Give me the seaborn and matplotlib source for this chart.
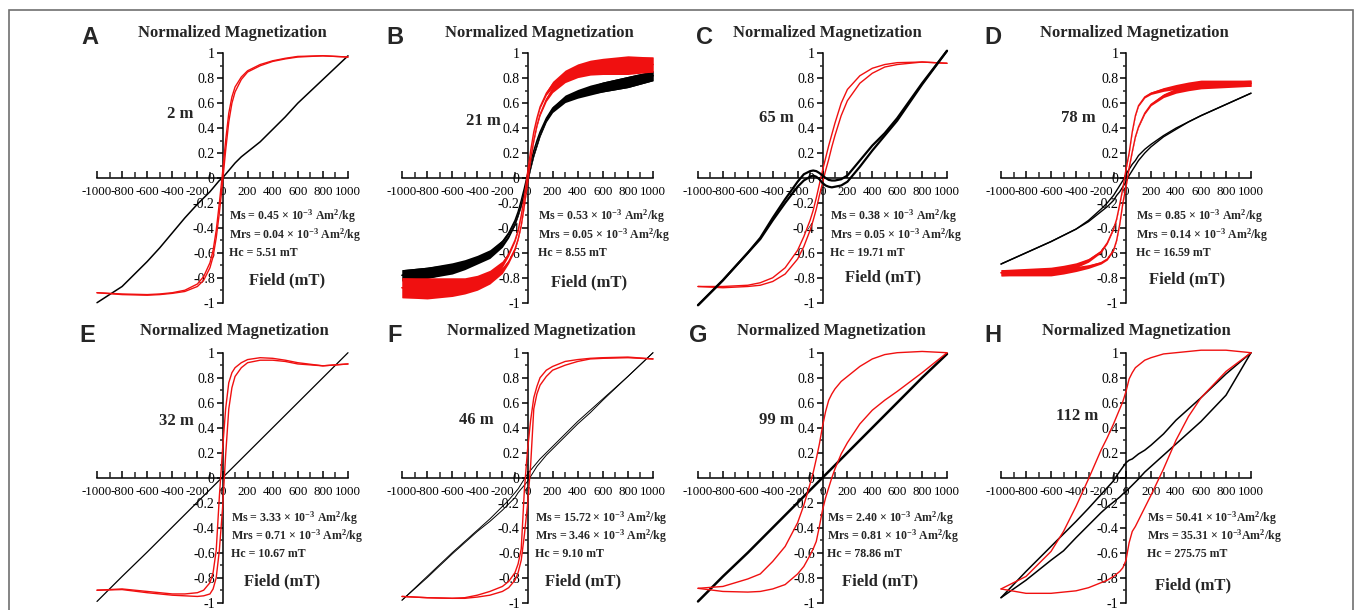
import matplotlib
matplotlib.use("Agg")
import matplotlib.pyplot as plt
from matplotlib.patches import Rectangle
from matplotlib.ticker import FixedLocator, MultipleLocator
import numpy as np
import pandas as pd
import seaborn as sns

# field steps (mT) shared by every branch
FIELD_MT = [-1000, -800, -600, -500, -400, -300, -200, -150, -100, -75, -50, -25,
            0, 25, 50, 75, 100, 150, 200, 300, 400, 500, 600, 800, 1000]

PANELS = ["A", "B", "C", "D", "E", "F", "G", "H"]
DEPTHS = ["2 m", "21 m", "65 m", "78 m", "32 m", "46 m", "99 m", "112 m"]
MS = ["0.45", "0.53", "0.38", "0.85", "3.33", "15.72", "2.40", "50.41"]
MRS = ["0.04", "0.05", "0.05", "0.14", "0.71", "3.46", "0.81", "35.31"]
HC = ["5.51", "8.55", "19.71", "16.59", "10.67", "9.10", "78.86", "275.75"]

# A, 2 m
A_RED_UP = [-0.92, -0.93, -0.935, -0.93, -0.92, -0.90, -0.85, -0.79, -0.68, -0.58, -0.42, -0.20,
            0.04, 0.30, 0.52, 0.65, 0.73, 0.81, 0.86, 0.91, 0.94, 0.96, 0.975, 0.98, 0.97]
A_RED_LO = [-0.92, -0.935, -0.94, -0.935, -0.925, -0.91, -0.87, -0.82, -0.72, -0.63, -0.48, -0.28,
            -0.04, 0.22, 0.45, 0.60, 0.69, 0.79, 0.85, 0.90, 0.935, 0.955, 0.97, 0.98, 0.97]
A_BLACK = [-1.0, -0.87, -0.67, -0.56, -0.44, -0.32, -0.21, -0.16, -0.11, -0.08, -0.05, -0.02,
           0.0, 0.03, 0.06, 0.09, 0.12, 0.17, 0.21, 0.29, 0.39, 0.49, 0.60, 0.79, 0.98]

# B, 21 m (noisy)
B_RED_UP = [-0.88, -0.88, -0.87, -0.86, -0.83, -0.78, -0.69, -0.61, -0.50, -0.42, -0.30, -0.15,
            0.04, 0.22, 0.37, 0.48, 0.57, 0.68, 0.75, 0.83, 0.87, 0.89, 0.90, 0.91, 0.91]
B_RED_LO = [-0.88, -0.89, -0.88, -0.87, -0.85, -0.81, -0.74, -0.67, -0.57, -0.49, -0.38, -0.22,
            -0.04, 0.15, 0.30, 0.42, 0.51, 0.63, 0.71, 0.80, 0.85, 0.88, 0.89, 0.90, 0.91]
B_RED_NOISE = [0.08, 0.08, 0.07, 0.06, 0.05, 0.04, 0.025, 0.015, 0.01, 0.008, 0.008, 0.008,
               0.008, 0.008, 0.008, 0.008, 0.01, 0.015, 0.025, 0.035, 0.045, 0.055, 0.06, 0.07, 0.06]
B_BLACK_UP = [-0.78, -0.76, -0.72, -0.69, -0.65, -0.60, -0.51, -0.44, -0.34, -0.27, -0.18, -0.08,
              0.03, 0.13, 0.22, 0.30, 0.37, 0.48, 0.56, 0.64, 0.68, 0.71, 0.73, 0.77, 0.82]
B_BLACK_LO = [-0.78, -0.76, -0.73, -0.70, -0.66, -0.62, -0.54, -0.47, -0.37, -0.30, -0.22, -0.12,
              -0.03, 0.08, 0.18, 0.26, 0.34, 0.46, 0.54, 0.63, 0.67, 0.70, 0.73, 0.77, 0.82]
B_BLACK_NOISE = [0.045, 0.045, 0.04, 0.035, 0.03, 0.025, 0.015, 0.01, 0.008, 0.008, 0.008, 0.008,
                 0.008, 0.008, 0.008, 0.008, 0.008, 0.01, 0.015, 0.025, 0.03, 0.035, 0.04, 0.045, 0.04]

# C, 65 m
C_RED_UP = [-0.87, -0.87, -0.86, -0.84, -0.80, -0.72, -0.58, -0.47, -0.34, -0.26, -0.16, -0.05,
            0.06, 0.16, 0.26, 0.35, 0.44, 0.60, 0.71, 0.82, 0.88, 0.91, 0.925, 0.93, 0.92]
C_RED_LO = [-0.87, -0.88, -0.87, -0.86, -0.83, -0.77, -0.65, -0.55, -0.42, -0.34, -0.25, -0.14,
            -0.04, 0.06, 0.15, 0.25, 0.34, 0.50, 0.62, 0.76, 0.84, 0.89, 0.91, 0.93, 0.92]
C_BLACK_UP = [-1.02, -0.82, -0.60, -0.48, -0.32, -0.17, -0.03, 0.03, 0.055, 0.06, 0.055, 0.04,
              0.02, 0.0, -0.015, -0.02, -0.02, -0.01, 0.02, 0.14, 0.26, 0.36, 0.48, 0.76, 1.02]
C_BLACK_LO = [-1.02, -0.82, -0.60, -0.49, -0.34, -0.20, -0.07, -0.02, 0.01, 0.02, 0.01, -0.01,
              -0.04, -0.06, -0.07, -0.075, -0.07, -0.06, -0.03, 0.09, 0.22, 0.34, 0.46, 0.75, 1.02]

# D, 78 m (noisy red)
D_RED_UP = [-0.76, -0.75, -0.74, -0.72, -0.70, -0.66, -0.59, -0.52, -0.41, -0.33, -0.21, -0.08,
            0.07, 0.20, 0.37, 0.50, 0.58, 0.65, 0.68, 0.71, 0.73, 0.75, 0.76, 0.76, 0.76]
D_RED_LO = [-0.76, -0.76, -0.76, -0.75, -0.73, -0.71, -0.68, -0.65, -0.58, -0.50, -0.37, -0.20,
            -0.07, 0.08, 0.21, 0.33, 0.41, 0.52, 0.59, 0.66, 0.70, 0.72, 0.74, 0.75, 0.76]
D_RED_NOISE = [0.025, 0.025, 0.025, 0.02, 0.02, 0.015, 0.01, 0.008, 0.005, 0.005, 0.005, 0.005,
               0.005, 0.005, 0.005, 0.005, 0.005, 0.008, 0.01, 0.015, 0.02, 0.02, 0.025, 0.025, 0.025]
D_BLACK_UP = [-0.69, -0.60, -0.51, -0.46, -0.41, -0.34, -0.25, -0.20, -0.14, -0.10, -0.06, -0.02,
              0.03, 0.07, 0.11, 0.14, 0.18, 0.23, 0.27, 0.34, 0.40, 0.45, 0.50, 0.59, 0.68]
D_BLACK_LO = [-0.69, -0.60, -0.51, -0.46, -0.41, -0.35, -0.27, -0.23, -0.18, -0.14, -0.11, -0.07,
              -0.03, 0.02, 0.06, 0.10, 0.14, 0.20, 0.25, 0.33, 0.39, 0.45, 0.50, 0.59, 0.68]

# E, 32 m
E_RED_UP = [-0.90, -0.89, -0.91, -0.92, -0.93, -0.93, -0.92, -0.90, -0.84, -0.76, -0.58, -0.15,
            0.22, 0.55, 0.76, 0.84, 0.88, 0.92, 0.945, 0.96, 0.955, 0.94, 0.92, 0.895, 0.91]
E_RED_LO = [-0.90, -0.895, -0.92, -0.93, -0.94, -0.945, -0.95, -0.945, -0.93, -0.89, -0.80, -0.58,
            -0.25, 0.18, 0.55, 0.72, 0.81, 0.88, 0.92, 0.94, 0.94, 0.93, 0.91, 0.895, 0.91]
E_BLACK = [-0.99, -0.79, -0.595, -0.495, -0.395, -0.295, -0.195, -0.145, -0.095, -0.07, -0.045, -0.02,
           0.0, 0.025, 0.05, 0.075, 0.1, 0.15, 0.2, 0.3, 0.4, 0.5, 0.6, 0.8, 1.0]

# F, 46 m
F_RED_UP = [-0.95, -0.96, -0.965, -0.96, -0.94, -0.91, -0.87, -0.83, -0.76, -0.69, -0.57, -0.10,
            0.22, 0.46, 0.64, 0.73, 0.80, 0.86, 0.89, 0.93, 0.945, 0.955, 0.96, 0.965, 0.95]
F_RED_LO = [-0.95, -0.96, -0.965, -0.965, -0.955, -0.94, -0.91, -0.88, -0.82, -0.76, -0.66, -0.46,
            -0.22, 0.10, 0.55, 0.67, 0.74, 0.81, 0.86, 0.90, 0.93, 0.95, 0.955, 0.96, 0.95]
F_BLACK_UP = [-0.98, -0.79, -0.60, -0.51, -0.42, -0.33, -0.23, -0.18, -0.12, -0.09, -0.05, -0.01,
              0.03, 0.06, 0.09, 0.12, 0.15, 0.20, 0.25, 0.35, 0.45, 0.54, 0.63, 0.81, 1.0]
F_BLACK_LO = [-0.98, -0.80, -0.61, -0.52, -0.43, -0.35, -0.26, -0.21, -0.16, -0.12, -0.09, -0.06,
              -0.03, 0.01, 0.05, 0.09, 0.12, 0.18, 0.23, 0.33, 0.43, 0.52, 0.62, 0.81, 1.0]

# G, 99 m
G_RED_UP = [-0.885, -0.87, -0.81, -0.77, -0.67, -0.55, -0.36, -0.22, -0.05, 0.04, 0.15, 0.27,
            0.41, 0.53, 0.62, 0.67, 0.71, 0.77, 0.81, 0.89, 0.95, 0.985, 1.0, 1.01, 1.0]
G_RED_LO = [-0.885, -0.91, -0.915, -0.91, -0.89, -0.855, -0.77, -0.71, -0.62, -0.57, -0.51, -0.39,
            -0.26, -0.16, -0.08, 0.0, 0.07, 0.19, 0.28, 0.43, 0.54, 0.62, 0.69, 0.84, 1.0]
G_BLACK = [-0.99, -0.79, -0.60, -0.50, -0.40, -0.30, -0.20, -0.15, -0.10, -0.075, -0.05, -0.025,
           0.0, 0.025, 0.05, 0.075, 0.10, 0.15, 0.20, 0.30, 0.40, 0.50, 0.60, 0.80, 0.99]

# H, 112 m
H_RED_UP = [-0.89, -0.79, -0.59, -0.43, -0.23, -0.01, 0.22, 0.32, 0.43, 0.49, 0.55, 0.61,
            0.69, 0.79, 0.84, 0.88, 0.90, 0.94, 0.96, 0.99, 1.0, 1.01, 1.02, 1.02, 1.0]
H_RED_LO = [-0.89, -0.925, -0.925, -0.915, -0.905, -0.88, -0.84, -0.82, -0.79, -0.77, -0.75, -0.72,
            -0.66, -0.52, -0.43, -0.39, -0.34, -0.24, -0.14, 0.07, 0.30, 0.49, 0.64, 0.85, 1.0]
H_BLACK_UP = [-0.96, -0.75, -0.55, -0.45, -0.35, -0.245, -0.135, -0.08, -0.025, 0.015, 0.05, 0.085,
              0.12, 0.14, 0.15, 0.17, 0.19, 0.22, 0.26, 0.35, 0.46, 0.55, 0.64, 0.83, 1.0]
H_BLACK_LO = [-0.96, -0.82, -0.66, -0.585, -0.48, -0.38, -0.28, -0.235, -0.195, -0.175, -0.155, -0.13,
              -0.11, -0.085, -0.06, -0.035, -0.01, 0.045, 0.09, 0.18, 0.27, 0.36, 0.45, 0.66, 1.0]

RED_UP = [A_RED_UP, B_RED_UP, C_RED_UP, D_RED_UP, E_RED_UP, F_RED_UP, G_RED_UP, H_RED_UP]
RED_LO = [A_RED_LO, B_RED_LO, C_RED_LO, D_RED_LO, E_RED_LO, F_RED_LO, G_RED_LO, H_RED_LO]
BLACK_UP = [A_BLACK, B_BLACK_UP, C_BLACK_UP, D_BLACK_UP, E_BLACK, F_BLACK_UP, G_BLACK, H_BLACK_UP]
BLACK_LO = [A_BLACK, B_BLACK_LO, C_BLACK_LO, D_BLACK_LO, E_BLACK, F_BLACK_LO, G_BLACK, H_BLACK_LO]
RED_NOISE = {"B": B_RED_NOISE, "D": D_RED_NOISE}
BLACK_NOISE = {"B": B_BLACK_NOISE}

# layout, in pixels of the 1356x610 canvas and in data units of each panel
W, H = 1356, 610
COLS = [(97, 348), (402, 653), (698, 947), (1001, 1251)]
ROWS = [(53.3, 302.7), (352.7, 602.7)]
TITLE_X = [78, 93, 38, 70, 93, 107, 69, 87]
LETTER_X = [-1060, -1056, -944, -1068, -1076, -1056, -998, -1068]
DEPTH_X = [-232, -216, -232, -240, -232, -267, -232, -225]
DEPTH_Y = [0.51, 0.46, 0.48, 0.48, 0.45, 0.46, 0.46, 0.49]
STAT_X = [54, 80, 59, 77, 67, 61, 40, 167]
FIELD_X = [515, 492, 488, 492, 475, 445, 462, 537]
FIELD_Y = [-0.82, -0.84, -0.80, -0.81, -0.83, -0.83, -0.83, -0.86]
BLACK_LW = [1.1, 1.0, 1.6, 1.0, 0.9, 0.7, 1.8, 1.1]

sns.set_style("white")
plt.rcParams["font.family"] = ["Liberation Serif", "DejaVu Serif"]
plt.rcParams["mathtext.fontset"] = "custom"
plt.rcParams["mathtext.rm"] = "Liberation Serif"
plt.rcParams["mathtext.bf"] = "Liberation Serif:bold"
plt.rcParams["mathtext.default"] = "bf"
plt.rcParams["axes.unicode_minus"] = False

RED = "#f01010"


def branch(ax, m, color, lw, noise=None):
    if noise is not None:
        m_arr = np.array(m)
        ax.fill_between(FIELD_MT, m_arr - np.array(noise), m_arr + np.array(noise),
                        color=color, lw=0, clip_on=False)
    df = pd.DataFrame({"field": FIELD_MT, "m": m})
    sns.lineplot(data=df, x="field", y="m", sort=False, estimator=None,
                 color=color, lw=lw, ax=ax, clip_on=False)


fig = plt.figure(figsize=(W / 100, H / 100), dpi=100)

for i, name in enumerate(PANELS):
    r, c = divmod(i, 4)
    x0, x1 = COLS[c]
    y0, y1 = ROWS[r]
    ax = fig.add_axes([x0 / W, 1 - y1 / H, (x1 - x0) / W, (y1 - y0) / H])
    ax.patch.set_alpha(0)

    zb, zr = (1, 2) if name != "C" else (2, 1)
    for m in ([BLACK_UP[i]] if BLACK_UP[i] is BLACK_LO[i] else [BLACK_UP[i], BLACK_LO[i]]):
        branch(ax, m, "black", BLACK_LW[i], BLACK_NOISE.get(name))
    for m in (RED_UP[i], RED_LO[i]):
        branch(ax, m, RED, 1.0, RED_NOISE.get(name))
    for ln in ax.lines:
        ln.set_zorder(zr if ln.get_color() == RED else zb)

    ax.set_xlim(-1000, 1000)
    ax.set_ylim(-1, 1)
    ax.set_xlabel("")
    ax.set_ylabel("")
    for s in ("top", "right"):
        ax.spines[s].set_visible(False)
    for s in ("left", "bottom"):
        ax.spines[s].set_position(("data", 0))
        ax.spines[s].set_linewidth(1.1)
        ax.spines[s].set_color("black")
        ax.spines[s].set_zorder(0.5)

    xt = list(range(-1000, 1001, 200))
    ax.xaxis.set_major_locator(FixedLocator(xt))
    ax.xaxis.set_minor_locator(MultipleLocator(100))
    ax.set_xticklabels([str(v) for v in xt])
    yt = [round(v, 1) + 0.0 for v in np.arange(-1, 1.01, 0.2)]
    ax.yaxis.set_major_locator(FixedLocator(yt))
    ax.yaxis.set_minor_locator(MultipleLocator(0.1))
    ax.set_yticklabels(["0" if abs(v) < 1e-9 else f"{v:g}" for v in yt])
    ax.tick_params(axis="both", which="both", bottom=True, left=True, top=False, right=False)
    ax.tick_params(axis="x", which="major", direction="in", length=5, width=1.1,
                   pad=6, labelsize=9.3, colors="black")
    ax.tick_params(axis="x", which="minor", direction="in", length=4, width=1.1)
    ax.tick_params(axis="y", which="major", direction="out", length=4, width=1.1,
                   pad=1.5, labelsize=10, colors="black")
    ax.tick_params(axis="y", which="minor", direction="out", length=2.5, width=1.1)

    title_y = 1.16 if r == 0 else 1.17
    ax.text(TITLE_X[i], title_y, "Normalized Magnetization", ha="center", va="center",
            fontsize=12, fontweight="bold", clip_on=False)
    ax.text(LETTER_X[i], 1.13 if r == 0 else 1.14, name, ha="center", va="center",
            fontsize=17, fontweight="bold", family="Liberation Sans", clip_on=False)
    ax.text(DEPTH_X[i], DEPTH_Y[i], DEPTHS[i], ha="right", va="center",
            fontsize=12, fontweight="bold")
    sep = "" if name == "H" else " "
    stat_y = [-0.31, -0.455, -0.60] if r == 0 else [-0.325, -0.47, -0.61]
    lines = [f"Ms = {MS[i]} × 10$^{{-3}}${sep}Am$^{{2}}$/kg",
             f"Mrs = {MRS[i]} × 10$^{{-3}}${sep}Am$^{{2}}$/kg",
             f"Hc = {HC[i]} mT"]
    for txt, yy in zip(lines, stat_y):
        ax.text(STAT_X[i], yy, txt, ha="left", va="center", fontsize=8.6,
                fontweight="bold", clip_on=False)
    ax.text(FIELD_X[i], FIELD_Y[i], "Field (mT)", ha="center", va="center",
            fontsize=12, fontweight="bold")

fig.add_artist(Rectangle((8.5 / W, -0.1), (1353 - 8.5) / W, 1 - 10 / H + 0.1,
                         transform=fig.transFigure, fill=False, ec="#707070", lw=1.2))

fig.savefig("out.png", dpi=100)
